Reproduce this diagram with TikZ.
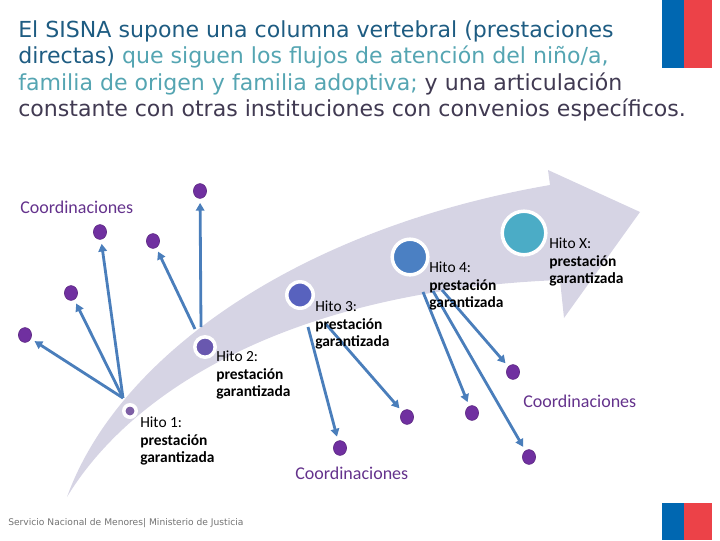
\documentclass[tikz,border=0pt]{standalone}
\usepackage{fontspec}
\setmainfont{Carlito}
\newfontfamily\verdanalike{DejaVu Sans}
\usetikzlibrary{arrows.meta,shapes.geometric}

\definecolor{titleblue}{RGB}{30,92,130}
\definecolor{titleteal}{RGB}{85,165,178}
\definecolor{titlegray}{RGB}{65,58,82}
\definecolor{bandgray}{RGB}{214,212,228}
\definecolor{dotpurple}{RGB}{112,48,160}
\definecolor{linkblue}{RGB}{74,126,187}
\definecolor{coordpurple}{RGB}{100,50,140}
\definecolor{flagblue}{RGB}{0,103,177}
\definecolor{flagred}{RGB}{236,66,72}
\definecolor{hitoA}{RGB}{125,95,165}
\definecolor{hitoB}{RGB}{105,88,175}
\definecolor{hitoC}{RGB}{88,98,190}
\definecolor{hitoD}{RGB}{75,128,195}
\definecolor{hitoX}{RGB}{75,172,198}

\begin{document}
\begin{tikzpicture}[x=0.025cm, y=-0.025cm]
  % Styling
  \tikzset{
    titleLine/.style={
      anchor=base west,
      inner sep=0,
      font=\verdanalike\fontsize{15.7}{18.8}\selectfont
    },
    hito/.style={
      circle,
      draw=white,
      line width=2.5pt,
      inner sep=0
    },
    hitoLabel/.style={
      anchor=north west,
      inner sep=0,
      align=left,
      font=\fontsize{11}{12.3}\selectfont
    },
    coordDot/.style={
      ellipse,
      fill=dotpurple,
      draw=dotpurple!80!black,
      line width=0.4pt,
      minimum width=0.33cm,
      minimum height=0.37cm,
      inner sep=0
    },
    linkArrow/.style={
      -{Triangle[length=5.5pt,width=6pt]},
      line width=2pt,
      linkblue,
      shorten >=3pt
    },
    coordLabel/.style={
      anchor=west,
      inner sep=0,
      font=\fontsize{12.8}{15}\selectfont,
      text=coordpurple
    }
  }
  \useasboundingbox (0,0) rectangle (720,540);

  % ===== Title =====
  \node[titleLine, text=titleblue] (title1) at (18,37)
    {El SISNA supone una columna vertebral (prestaciones};
  \node[titleLine] (title2) at (18,63.5)
    {\textcolor{titleblue}{directas)} \textcolor{titleteal}{que siguen los flujos de atención del niño/a,}};
  \node[titleLine, text=titleteal] (title3) at (18,90)
    {familia de origen y familia adoptiva; \textcolor{titlegray}{y una articulación}};
  \node[titleLine, text=titlegray] (title4) at (18,116.5)
    {constante con otras instituciones con convenios específicos.};

  % Flags
  \fill[flagblue] (662,0) rectangle (684,68);
  \fill[flagred] (684,0) rectangle (712,68);
  \fill[flagblue] (662,503) rectangle (684,540);
  \fill[flagred] (684,503) rectangle (712,540);

  % ===== Big curved arrow =====
  \fill[bandgray] (67,497) .. controls (118,355) and (300,228) .. (550,185)
    -- (548,170) -- (640,212) -- (564,318) -- (560,280)
    .. controls (300,290) and (135,385) .. (67,497) -- cycle;

  % Start points on the band
  \coordinate (s1) at (123,398);
  \coordinate (s2) at (201,327);
  \coordinate (s3) at (195,329);
  \coordinate (s4) at (308,327);
  \coordinate (s5) at (325,323);
  \coordinate (s6) at (423,292);
  \coordinate (s7) at (433,291);
  \coordinate (s8) at (442,290);

  % ===== Coordinaciones dots =====
  \node[coordDot] (d1) at (25,335) {};
  \node[coordDot] (d2) at (71,293) {};
  \node[coordDot] (d3) at (100,232) {};
  \node[coordDot] (d4) at (153,241) {};
  \node[coordDot] (d5) at (200,191) {};
  \node[coordDot] (d6) at (340,448) {};
  \node[coordDot] (d7) at (407,417) {};
  \node[coordDot] (d8) at (472,413) {};
  \node[coordDot] (d9) at (513,372) {};
  \node[coordDot] (d10) at (529,457) {};

  % Arrows to the dots
  \draw[linkArrow] (s1) -- (d1);
  \draw[linkArrow] (s1) -- (d2);
  \draw[linkArrow] (s1) -- (d3);
  \draw[linkArrow] (s3) -- (d4);
  \draw[linkArrow] (s2) -- (d5);
  \draw[linkArrow] (s4) -- (d6);
  \draw[linkArrow] (s5) -- (d7);
  \draw[linkArrow] (s6) -- (d8);
  \draw[linkArrow] (s8) -- (d9);
  \draw[linkArrow] (s7) -- (d10);

  % ===== Hitos =====
  \node[hito, fill=hitoA, minimum size=0.31cm] (hito1) at (130,411) {};
  \node[hito, fill=hitoB, minimum size=0.51cm] (hito2) at (205,347) {};
  \node[hito, fill=hitoC, minimum size=0.66cm] (hito3) at (300,295) {};
  \node[hito, fill=hitoD, minimum size=0.89cm] (hito4) at (410,257) {};
  \node[hito, fill=hitoX, minimum size=1.09cm] (hitoX) at (524,233) {};

  % Hito labels
  \node[hitoLabel] (label1) at (140,417) {Hito 1:\\\textbf{prestación}\\\textbf{garantizada}};
  \node[hitoLabel] (label2) at (216,351) {Hito 2:\\\textbf{prestación}\\\textbf{garantizada}};
  \node[hitoLabel] (label3) at (315,301) {Hito 3:\\\textbf{prestación}\\\textbf{garantizada}};
  \node[hitoLabel] (label4) at (429,262) {Hito 4:\\\textbf{prestación}\\\textbf{garantizada}};
  \node[hitoLabel] (labelX) at (549,238) {Hito X:\\\textbf{prestación}\\\textbf{garantizada}};

  % Coordinaciones labels
  \node[coordLabel] (coordTop) at (20,207) {Coordinaciones};
  \node[coordLabel] (coordBottom) at (295,473) {Coordinaciones};
  \node[coordLabel] (coordRight) at (523,401) {Coordinaciones};

  % Footer
  \node[anchor=west, inner sep=0, font=\verdanalike\fontsize{6.5}{8}\selectfont, text=black!55] (footer)
    at (8,523) {Servicio Nacional de Menores| Ministerio de Justicia};
\end{tikzpicture}
\end{document}
